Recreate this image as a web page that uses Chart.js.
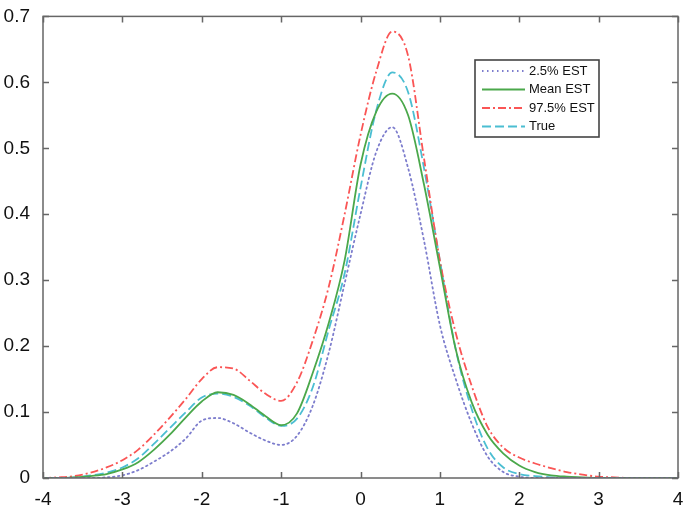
<!DOCTYPE html>
<html>
<head>
<meta charset="utf-8">
<script src="https://cdn.jsdelivr.net/npm/chart.js@4.4.1/dist/chart.umd.min.js"></script>
<style>
  html, body { margin: 0; padding: 0; background: #fff; }
  #wrap { width: 693px; height: 514px; }
</style>
</head>
<body>
<div id="wrap"><canvas id="densityChart" width="693" height="514"></canvas></div>
<script>
// x grid
const xs = [-4.0, -3.8, -3.6, -3.4, -3.2, -3.0, -2.8, -2.6, -2.4, -2.2, -2.0, -1.8, -1.6, -1.4, -1.2, -1.0, -0.8, -0.6, -0.4, -0.2,
  0.0, 0.2, 0.4, 0.6, 0.8, 1.0, 1.2, 1.4, 1.6, 1.8, 2.0, 2.2, 2.4, 2.6, 2.8, 3.0, 3.2, 3.4, 3.6, 3.8, 4.0];

// series values
const lowEst = [0, 0, 0, 0, 0.001, 0.004, 0.012, 0.025, 0.040, 0.060, 0.087, 0.091, 0.083, 0.069, 0.057, 0.050, 0.064, 0.110, 0.190, 0.295,
  0.400, 0.495, 0.532, 0.470, 0.360, 0.232, 0.150, 0.083, 0.033, 0.009, 0.002, 0, 0, 0, 0, 0, 0, 0, 0, 0, 0];
const meanEst = [0, 0, 0.001, 0.003, 0.006, 0.013, 0.024, 0.043, 0.066, 0.092, 0.116, 0.130, 0.126, 0.112, 0.094, 0.080, 0.098, 0.160, 0.235, 0.330,
  0.475, 0.556, 0.583, 0.550, 0.445, 0.320, 0.195, 0.115, 0.066, 0.037, 0.019, 0.009, 0.004, 0.002, 0.001, 0, 0, 0, 0, 0, 0];
const highEst = [0, 0.001, 0.003, 0.008, 0.016, 0.027, 0.043, 0.066, 0.092, 0.120, 0.150, 0.168, 0.166, 0.148, 0.128, 0.117, 0.145, 0.209, 0.290, 0.400,
  0.520, 0.617, 0.677, 0.640, 0.485, 0.330, 0.220, 0.140, 0.078, 0.046, 0.031, 0.022, 0.015, 0.009, 0.005, 0.002, 0.001, 0, 0, 0, 0];
const trueVals = [0, 0, 0.001, 0.004, 0.008, 0.016, 0.030, 0.052, 0.076, 0.100, 0.122, 0.128, 0.123, 0.110, 0.092, 0.079, 0.090, 0.138, 0.225, 0.310,
  0.440, 0.558, 0.615, 0.585, 0.470, 0.330, 0.195, 0.105, 0.045, 0.016, 0.006, 0.003, 0.001, 0, 0, 0, 0, 0, 0, 0, 0];

const seriesLabels = ['2.5% EST', 'Mean EST', '97.5% EST', 'True'];
const xTicks = [-4, -3, -2, -1, 0, 1, 2, 3, 4];
const yTicks = [0, 0.1, 0.2, 0.3, 0.4, 0.5, 0.6, 0.7];

const FONT = '"Liberation Sans", Arial, sans-serif';

function pts(arr) {
  return xs.map((x, i) => ({ x: x, y: arr[i] }));
}

// box, inward ticks and legend, drawn like the original figure
const frameAndLegend = {
  id: 'frameAndLegend',
  afterDraw(chart) {
    const c = chart.ctx;
    const a = chart.chartArea;
    const xs_ = chart.scales.x, ys_ = chart.scales.y;
    c.save();
    c.strokeStyle = '#666';
    c.lineWidth = 1.5;
    c.strokeRect(a.left, a.top, a.right - a.left, a.bottom - a.top);
    c.beginPath();
    xTicks.forEach(v => {
      const px = Math.round(xs_.getPixelForValue(v)) + 0.5;
      c.moveTo(px, a.bottom); c.lineTo(px, a.bottom - 6);
      c.moveTo(px, a.top); c.lineTo(px, a.top + 6);
    });
    yTicks.forEach(v => {
      const py = Math.round(ys_.getPixelForValue(v)) + 0.5;
      c.moveTo(a.left, py); c.lineTo(a.left + 6, py);
      c.moveTo(a.right, py); c.lineTo(a.right - 6, py);
    });
    c.stroke();

    // legend
    const bx = 475, by = 60, bw = 124, bh = 77;
    c.fillStyle = '#fff';
    c.fillRect(bx, by, bw, bh);
    c.strokeStyle = '#444';
    c.lineWidth = 1.6;
    c.strokeRect(bx, by, bw, bh);
    c.font = '13px ' + FONT;
    c.textBaseline = 'middle';
    chart.data.datasets.forEach((ds, i) => {
      const ly = by + 11 + i * 18.5;
      c.beginPath();
      c.strokeStyle = ds.borderColor;
      c.lineWidth = ds.borderWidth;
      c.setLineDash(ds.borderDash || []);
      c.moveTo(bx + 7, ly); c.lineTo(bx + 50, ly);
      c.stroke();
      c.setLineDash([]);
      c.fillStyle = '#111';
      c.fillText(ds.label, bx + 54, ly);
    });
    c.restore();
  }
};

const ctx = document.getElementById('densityChart').getContext('2d');
const densityChart = new Chart(ctx, {
  type: 'line',
  data: {
    datasets: [
      {
        label: seriesLabels[0],
        data: pts(lowEst),
        borderColor: 'rgb(125,125,205)',
        borderWidth: 1.8,
        borderDash: [1.5, 3.5],
        borderCapStyle: 'round'
      },
      {
        label: seriesLabels[1],
        data: pts(meanEst),
        borderColor: 'rgb(75,168,75)',
        borderWidth: 1.8
      },
      {
        label: seriesLabels[2],
        data: pts(highEst),
        borderColor: 'rgb(250,85,85)',
        borderWidth: 1.8,
        borderDash: [8, 3, 2, 3]
      },
      {
        label: seriesLabels[3],
        data: pts(trueVals),
        borderColor: 'rgb(75,190,210)',
        borderWidth: 1.8,
        borderDash: [9, 4]
      }
    ]
  },
  options: {
    responsive: false,
    animation: false,
    cubicInterpolationMode: 'monotone',
    elements: { point: { radius: 0 } },
    layout: { padding: { top: 15, right: 15, left: 0, bottom: 0 } },
    plugins: { legend: { display: false }, tooltip: { enabled: false } },
    scales: {
      x: {
        type: 'linear',
        min: -4, max: 4,
        afterBuildTicks: s => { s.ticks = xTicks.map(v => ({ value: v })); },
        afterFit: s => { s.height = 36; },
        grid: { display: false },
        border: { display: false },
        ticks: { color: '#111', font: { family: FONT, size: 19 }, padding: 2, maxRotation: 0 }
      },
      y: {
        min: 0, max: 0.7,
        afterBuildTicks: s => { s.ticks = yTicks.map(v => ({ value: v })); },
        afterFit: s => { s.width = 43; },
        grid: { display: false },
        border: { display: false },
        ticks: { color: '#111', font: { family: FONT, size: 19 }, padding: 5 }
      }
    }
  },
  plugins: [frameAndLegend]
});
</script>
</body>
</html>
